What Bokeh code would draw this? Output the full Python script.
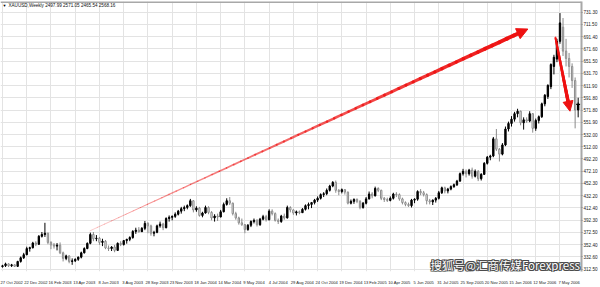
import math
import numpy as np
from bokeh.plotting import figure
from bokeh.models import (ColumnDataSource, Range1d, FixedTicker, Label, Arrow,
                          NormalHead, PrintfTickFormatter, Span)
from bokeh.embed import file_html
from bokeh.resources import INLINE

symbol_title = "XAUUSD,Weekly  2497.99 2571.05 2465.54 2568.16"
watermark = "搜狐号@汇商传媒Forexpress"

date_labels = ["27 Oct 2002", "22 Dec 2002", "16 Feb 2003", "13 Apr 2003", "8 Jun 2003",
               "3 Aug 2003", "28 Sep 2003", "23 Nov 2003", "18 Jan 2004", "14 Mar 2004",
               "9 May 2004", "4 Jul 2004", "29 Aug 2004", "24 Oct 2004", "19 Dec 2004",
               "13 Feb 2005", "10 Apr 2005", "5 Jun 2005", "31 Jul 2005", "25 Sep 2005",
               "20 Nov 2005", "15 Jan 2006", "12 Mar 2006", "7 May 2006"]
weeks_per_label = 8

price_ticks = [312.50, 332.60, 352.40, 372.50, 392.30, 412.40, 432.20, 452.30, 472.10,
               492.20, 512.00, 532.00, 551.90, 571.80, 591.80, 611.90, 631.70, 651.50,
               671.60, 691.40, 711.50, 731.30]

opens = [316.5, 318.0, 321.0, 318.0, 319.5, 317.0, 325.0, 331.0, 336.0, 346.0,
         347.5, 355.0, 353.0, 366.0, 369.0, 371.0, 356.0, 352.0, 350.0, 351.5,
         339.0, 330.0, 334.0, 325.0, 326.0, 328.5, 332.0, 339.0, 346.0, 354.5,
         369.0, 362.0, 363.0, 356.0, 358.0, 347.0, 346.0, 348.5, 343.0, 354.5,
         352.5, 359.0, 361.0, 364.0, 374.0, 376.0, 373.5, 379.0, 387.0, 383.0,
         371.0, 372.5, 383.0, 386.0, 380.0, 395.0, 397.0, 398.5, 402.0, 407.0,
         411.0, 413.0, 416.0, 424.0, 409.0, 412.0, 400.0, 404.0, 413.0, 405.0,
         396.0, 399.0, 397.5, 406.0, 418.0, 424.0, 420.0, 403.0, 396.0, 388.0,
         385.0, 377.0, 384.0, 390.0, 392.0, 385.0, 394.0, 398.0, 393.0, 407.0,
         403.0, 392.0, 390.0, 399.0, 396.0, 413.0, 409.0, 404.0, 406.0, 404.5,
         410.0, 416.0, 418.0, 421.0, 425.0, 428.0, 434.0, 435.5, 441.0, 448.0,
         454.0, 441.0, 439.0, 442.0, 438.0, 420.0, 423.0, 426.0, 423.0, 413.0,
         420.0, 427.0, 435.0, 432.0, 444.0, 441.0, 428.0, 426.0, 424.5, 428.0,
         435.0, 434.0, 427.0, 421.0, 418.0, 416.0, 425.0, 426.5, 439.0, 437.0,
         434.0, 424.0, 422.0, 425.0, 428.0, 437.0, 445.0, 440.0, 443.0, 447.0,
         450.0, 456.0, 468.0, 472.0, 468.0, 474.0, 464.0, 472.0, 460.0, 467.0,
         485.0, 495.0, 497.0, 525.0, 508.0, 500.0, 515.0, 541.0, 550.0, 557.0,
         566.0, 570.0, 551.0, 556.0, 554.0, 566.0, 542.0, 555.0, 561.0, 582.0,
         594.0, 610.0, 643.0, 655.0, 684.0, 707.0, 668.0, 656.0, 643.0, 620.0,
         572.0]
highs = [319.5, 323.0, 322.0, 321.0, 320.5, 326.0, 333.0, 339.0, 349.0, 349.0,
         357.0, 358.0, 368.0, 373.0, 388.0, 372.0, 358.0, 355.0, 355.0, 356.0,
         341.0, 336.0, 335.0, 330.0, 330.0, 333.0, 341.0, 348.0, 356.0, 372.0,
         373.0, 368.0, 365.0, 362.0, 360.0, 351.0, 350.0, 352.0, 356.0, 358.0,
         360.0, 362.0, 366.0, 376.0, 380.0, 381.0, 381.0, 391.0, 389.0, 385.0,
         375.0, 385.0, 390.0, 388.0, 397.0, 400.0, 400.0, 405.0, 409.0, 414.0,
         416.0, 418.0, 427.0, 425.0, 415.0, 414.0, 406.0, 416.0, 415.0, 407.0,
         402.0, 403.0, 409.0, 421.0, 428.0, 430.0, 421.0, 406.0, 398.0, 395.0,
         386.0, 386.0, 392.0, 395.0, 394.0, 396.0, 401.0, 401.0, 410.0, 410.0,
         405.0, 395.0, 401.0, 403.0, 416.0, 415.0, 410.0, 408.0, 408.0, 412.0,
         418.0, 421.0, 422.0, 427.0, 431.0, 436.0, 438.0, 444.0, 450.0, 456.0,
         457.0, 443.0, 444.0, 443.0, 439.0, 426.0, 428.0, 428.0, 425.0, 422.0,
         430.0, 439.0, 438.0, 447.0, 446.0, 442.0, 430.0, 429.0, 431.0, 437.0,
         438.0, 436.0, 429.0, 423.0, 421.0, 427.0, 428.0, 441.0, 443.0, 440.0,
         436.0, 427.0, 426.0, 430.0, 440.0, 447.0, 447.0, 445.0, 449.0, 452.0,
         458.0, 470.0, 476.0, 475.0, 476.0, 478.0, 475.0, 474.0, 469.0, 487.0,
         497.0, 499.0, 528.0, 541.0, 510.0, 518.0, 545.0, 553.0, 562.0, 569.0,
         574.0, 571.0, 560.0, 560.0, 570.0, 567.0, 558.0, 563.0, 584.0, 598.0,
         614.0, 648.0, 662.0, 688.0, 730.0, 722.0, 688.0, 665.0, 648.0, 625.0,
         592.0]
lows = [315.0, 316.0, 316.0, 316.0, 316.0, 316.0, 323.0, 329.0, 335.0, 341.0,
        346.0, 350.0, 352.0, 364.0, 365.0, 353.0, 345.0, 346.0, 343.0, 337.0,
        325.0, 327.0, 322.0, 319.5, 324.0, 326.0, 330.0, 338.0, 345.0, 353.0,
        358.0, 358.0, 352.0, 350.0, 345.0, 342.0, 342.0, 340.0, 342.0, 350.0,
        351.0, 354.0, 358.0, 362.0, 370.0, 372.0, 373.0, 376.0, 371.0, 367.0,
        366.0, 371.0, 380.0, 376.0, 379.0, 390.0, 392.0, 396.0, 400.0, 403.0,
        407.0, 410.0, 414.0, 405.0, 406.0, 398.0, 397.0, 403.0, 402.0, 392.0,
        390.0, 391.0, 397.0, 405.0, 416.0, 417.0, 400.0, 393.0, 385.0, 383.0,
        371.0, 375.0, 381.0, 387.0, 382.0, 383.0, 392.0, 390.0, 392.0, 400.0,
        390.0, 386.0, 388.0, 393.0, 395.0, 405.0, 401.0, 400.0, 402.0, 404.0,
        408.0, 410.0, 412.0, 418.0, 422.0, 426.0, 430.0, 433.0, 439.0, 446.0,
        437.0, 433.0, 436.0, 434.0, 418.0, 418.0, 419.0, 420.0, 410.0, 411.0,
        418.0, 426.0, 428.0, 431.0, 438.0, 425.0, 422.0, 422.0, 423.0, 426.0,
        430.0, 424.0, 418.0, 415.0, 414.0, 413.0, 420.0, 424.0, 433.0, 431.0,
        418.0, 418.0, 417.0, 421.0, 426.0, 435.0, 436.0, 436.0, 441.0, 445.0,
        448.0, 455.0, 465.0, 462.0, 465.0, 460.0, 462.0, 456.0, 457.0, 466.0,
        483.0, 490.0, 495.0, 505.0, 488.0, 498.0, 513.0, 537.0, 545.0, 553.0,
        560.0, 547.0, 540.0, 551.0, 552.0, 535.0, 538.0, 550.0, 559.0, 578.0,
        590.0, 606.0, 630.0, 650.0, 680.0, 660.0, 643.0, 625.0, 608.0, 542.0,
        560.0]
closes = [318.0, 321.0, 318.0, 319.5, 317.0, 325.0, 331.0, 336.0, 346.0, 347.5,
          355.0, 353.0, 366.0, 369.0, 371.0, 356.0, 352.0, 350.0, 351.5, 339.0,
          330.0, 334.0, 325.0, 326.0, 328.5, 332.0, 339.0, 346.0, 354.5, 369.0,
          362.0, 363.0, 356.0, 358.0, 347.0, 346.0, 348.5, 343.0, 354.5, 352.5,
          359.0, 361.0, 364.0, 374.0, 376.0, 373.5, 379.0, 387.0, 383.0, 371.0,
          372.5, 383.0, 386.0, 380.0, 395.0, 397.0, 398.5, 402.0, 407.0, 411.0,
          413.0, 416.0, 424.0, 409.0, 412.0, 400.0, 404.0, 413.0, 405.0, 396.0,
          399.0, 397.5, 406.0, 418.0, 424.0, 420.0, 403.0, 396.0, 388.0, 385.0,
          377.0, 384.0, 390.0, 392.0, 385.0, 394.0, 398.0, 393.0, 407.0, 403.0,
          392.0, 390.0, 399.0, 396.0, 413.0, 409.0, 404.0, 406.0, 404.5, 410.0,
          416.0, 418.0, 421.0, 425.0, 428.0, 434.0, 435.5, 441.0, 448.0, 454.0,
          441.0, 439.0, 442.0, 438.0, 420.0, 423.0, 426.0, 423.0, 413.0, 420.0,
          427.0, 435.0, 432.0, 444.0, 441.0, 428.0, 426.0, 424.5, 428.0, 435.0,
          434.0, 427.0, 421.0, 418.0, 416.0, 425.0, 426.5, 439.0, 437.0, 434.0,
          424.0, 422.0, 425.0, 428.0, 437.0, 445.0, 440.0, 443.0, 447.0, 450.0,
          456.0, 468.0, 472.0, 468.0, 474.0, 464.0, 472.0, 460.0, 467.0, 485.0,
          495.0, 497.0, 525.0, 508.0, 500.0, 515.0, 541.0, 550.0, 557.0, 566.0,
          570.0, 551.0, 556.0, 554.0, 566.0, 542.0, 555.0, 561.0, 582.0, 596.0,
          612.0, 646.0, 658.0, 684.0, 714.0, 668.0, 656.0, 643.0, 620.0, 572.0,
          581.0]

# trend arrows drawn on the chart (week index, price)
arrow_up = (28.9, 375.0, 173.4, 704.0)
arrow_down = (182.5, 690.0, 187.3, 570.0)

# ---------------- layout ----------------
W, H = 600, 287
X0, X1 = -0.66, 191.1
Y0, Y1 = 308.6, 748.9
FRAME_W, FRAME_H = 583, 276
sx = FRAME_W / (X1 - X0)
sy = FRAME_H / (Y1 - Y0)

p = figure(width=W, height=H, x_range=Range1d(X0, X1), y_range=Range1d(Y0, Y1),
           output_backend="svg", toolbar_location=None, y_axis_location="right",
           min_border_left=0, min_border_right=17, min_border_top=1, min_border_bottom=10)
p.outline_line_color = None
p.background_fill_color = "white"
p.border_fill_color = "white"

n = len(opens)
idx = list(range(n))
label_pos = [k * weeks_per_label for k in range(len(date_labels))]
label_shift = 3.0
tick_pos = [round(v + label_shift, 2) for v in label_pos]

p.xaxis.ticker = FixedTicker(ticks=tick_pos)
p.xaxis.major_label_overrides = {t: s for t, s in zip(tick_pos, date_labels)}
p.xaxis.major_tick_line_color = None
p.xaxis.axis_line_color = None
p.xaxis.major_label_text_font_size = "4.1px"
p.xaxis.major_label_text_font = "Liberation Sans"
p.xaxis.major_label_text_color = "#222222"
p.xaxis.major_label_standoff = 2
p.xaxis.minor_tick_line_color = None

p.yaxis.ticker = FixedTicker(ticks=price_ticks)
p.yaxis.formatter = PrintfTickFormatter(format="%.2f")
p.yaxis.major_label_text_font_size = "4.6px"
p.yaxis.major_label_text_font = "Liberation Sans"
p.yaxis.major_label_text_color = "#222222"
p.yaxis.major_label_standoff = 1
p.yaxis.major_tick_in = 0
p.yaxis.major_tick_out = 1
p.yaxis.major_tick_line_color = "#888888"
p.yaxis.minor_tick_line_color = None
p.yaxis.axis_line_color = "#a8a8a8"
p.yaxis.axis_line_width = 2

p.xgrid.ticker = FixedTicker(ticks=label_pos)
p.ygrid.ticker = FixedTicker(ticks=price_ticks)
p.xgrid.grid_line_color = "#e3e3e3"
p.ygrid.grid_line_color = "#e3e3e3"

p.add_layout(Span(location=Y1, dimension="width", line_color="#a8a8a8", line_width=3))

# ---------------- candles ----------------
up = [c >= o for o, c in zip(opens, closes)]
src = ColumnDataSource(dict(
    x=idx, o=opens, h=highs, l=lows, c=closes,
    top=[max(o, c) for o, c in zip(opens, closes)],
    bot=[min(o, c) for o, c in zip(opens, closes)],
    wick=["#000000" if u else "#8a8a8a" for u in up],
    fill=["#000000" if u else "#ffffff" for u in up],
    edge=["#000000" if u else "#8a8a8a" for u in up],
))
p.segment(x0="x", y0="l", x1="x", y1="h", line_color="wick", line_width=1, source=src)
p.vbar(x="x", width=0.45, top="top", bottom="bot", fill_color="fill",
       line_color="edge", line_width=1, source=src)
p.scatter(x=[idx[-1]], y=[closes[-1]], marker="cross", size=4, line_color="black", line_width=1.2)

# ---------------- arrows ----------------


def tapered_arrow(a, w0, w1, al0, al1, head):
    xs, ys, xe, ye = a
    L = math.hypot((xe - xs) * sx, (ye - ys) * sy)
    f_end = 1 - head * 0.7 / L
    N = 60
    t = np.linspace(0, f_end, N + 1)
    xx = xs + (xe - xs) * t
    yy = ys + (ye - ys) * t
    tm = (t[:-1] + t[1:]) / 2 / f_end
    p.segment(x0=xx[:-1], y0=yy[:-1], x1=xx[1:], y1=yy[1:],
              line_width=w0 + (w1 - w0) * tm, line_alpha=al0 + (al1 - al0) * tm,
              line_color="#ee1111", line_cap="round")
    p.add_layout(Arrow(end=NormalHead(size=head, fill_color="#ee1111", line_color="#ee1111",
                                      line_width=1),
                       x_start=xs, y_start=ys, x_end=xe, y_end=ye, line_alpha=0))


tapered_arrow(arrow_up, 0.6, 4.0, 0.35, 1.0, 11)
tapered_arrow(arrow_down, 2.0, 3.5, 0.9, 1.0, 10)

# ---------------- texts ----------------
hdr_y = Y1 - 4.5 / sy
p.add_layout(Label(x=X0 + 2 / sx, y=hdr_y, text="▼", text_baseline="middle",
                   text_font_size="4px", text_color="black"))
p.add_layout(Label(x=X0 + 8 / sx, y=hdr_y, text=symbol_title, text_baseline="middle",
                   text_font_size="4.6px", text_font="Liberation Sans", text_color="#111111"))

wm_x, wm_y = 430, -1
for dx, dy in [(-1, 0), (1, 0), (0, -1), (0, 1), (-1, -1), (1, 1), (-1, 1), (1, -1)]:
    p.add_layout(Label(x=wm_x + dx, y=wm_y + dy, x_units="screen", y_units="screen",
                       text=watermark, text_baseline="bottom", text_font="Noto Sans CJK SC",
                       text_font_size="11.5px", text_color="#4a4a4a"))
p.add_layout(Label(x=wm_x, y=wm_y, x_units="screen", y_units="screen",
                   text=watermark, text_baseline="bottom", text_font="Noto Sans CJK SC",
                   text_font_size="11.5px", text_color="white"))

open("out.html", "w").write(file_html(p, INLINE))
